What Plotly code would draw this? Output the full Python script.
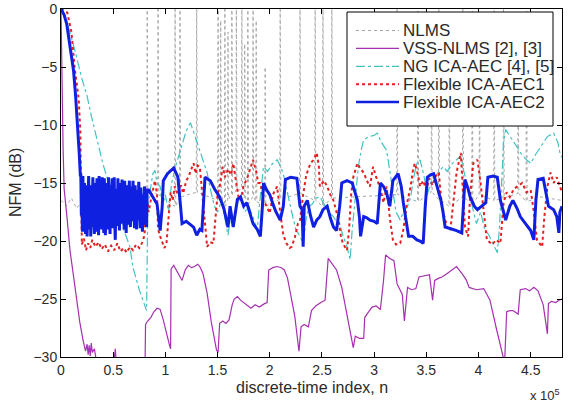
import plotly.graph_objects as go

# x in units of 1e5 samples, y in dB
nlms_base = [(0, -16.5), (0.05, -17.0), (0.1, -16.3), (0.15, -17.2), (0.2, -16.5), (0.3, -16.8),
             (0.4, -16.4), (0.5, -17.0), (0.6, -16.6), (0.7, -16.9), (0.8, -16.5)]
nlms_spikes = [0.826, 0.93, 1.093, 1.14, 1.30, 1.505, 1.53, 1.57, 1.60, 1.637, 1.68, 1.733, 1.76,
               1.79, 1.84, 1.87, 1.956, 2.10, 2.29, 2.435, 2.51, 2.595, 3.22, 3.42, 3.55, 3.62,
               3.72, 3.85, 3.94, 4.01, 4.15, 4.24, 4.38, 4.46]
nlms_spike_top = [2, 2, 2, 2, 2, 2, -1, 2, -2, 2, 1, 2, -3, 2, 2, -1, -5, 2, 2, 2, 2, 2, 2, 2,
                  -4, 2, -3, 2, 2, -6, 2, 2, -2, 2]
nlms_floor = [-15.5, -16.0, -17.0, -16.2, -15.8, -16.5, -16.0, -17.0, -16.4, -16.0, -15.7, -15.5,
              -16.3, -16.8, -16.2, -16.6, -17.0, -16.4, -15.9, -16.5, -17.0, -16.3, -16.0, -16.6,
              -15.8, -16.4, -17.0, -16.2, -16.8, -16.0, -16.5, -16.3, -15.9, -16.6]
nlms_end = [(4.6, -16.2), (4.8, -16.5)]

vss = [(0, 0), (0.005, -4.5), (0.012, -7), (0.02, -12), (0.03, -15.5), (0.045, -17.2), (0.06, -18.2),
       (0.086, -20.8), (0.12, -23), (0.15, -25.1), (0.18, -27), (0.21, -28.5), (0.235, -29.5),
       (0.25, -28.9), (0.26, -29.8), (0.27, -29), (0.28, -29.9), (0.29, -28.8), (0.30, -29.6),
       (0.32, -29.3), (0.34, -30.4), (0.37, -31), (0.45, -31), (0.5, -31), (0.52, -29.3), (0.53, -30.5),
       (0.56, -31), (0.62, -31), (0.7, -31), (0.78, -31), (0.805, -31), (0.81, -27.2), (0.83, -26.9),
       (0.86, -26.6), (0.89, -26.1), (0.92, -25.8), (0.95, -25.9), (0.98, -26.8), (1.01, -28),
       (1.04, -29), (1.05, -29.3), (1.055, -22.4), (1.08, -22.1), (1.11, -22.6), (1.14, -23),
       (1.16, -23.4), (1.19, -22.5), (1.22, -22.1), (1.25, -22.3), (1.28, -22.2), (1.31, -22.0),
       (1.33, -22.2), (1.36, -22.8), (1.40, -24.5), (1.44, -27), (1.47, -28.6), (1.49, -29.4),
       (1.505, -29.6), (1.52, -27.1), (1.55, -26.9), (1.58, -27.1), (1.61, -26.8), (1.64, -25.5),
       (1.66, -25.0), (1.69, -24.8), (1.72, -25.1), (1.76, -25.4), (1.79, -25.6), (1.82, -25.8),
       (1.86, -25.5), (1.90, -25.7), (1.95, -25.4), (1.975, -25.3), (1.99, -22.5), (2.03, -22.3),
       (2.07, -22.2), (2.11, -22.3), (2.14, -22.5), (2.17, -23.2), (2.2, -24.6), (2.24, -26.5),
       (2.28, -29.5), (2.30, -27.4), (2.33, -27.2), (2.37, -27.4), (2.40, -26), (2.44, -25.6),
       (2.49, -25.3), (2.53, -25.1), (2.56, -21.5), (2.60, -22.0), (2.64, -22.5), (2.69, -24),
       (2.74, -26.5), (2.78, -28.4), (2.80, -29.2), (2.82, -28.2), (2.86, -28.4), (2.90, -28.4),
       (2.91, -26.6), (2.94, -26.2), (2.98, -25.7), (3.02, -25.6), (3.06, -25.9), (3.09, -23.4),
       (3.11, -21.2), (3.15, -21.5), (3.19, -21.7), (3.22, -23.7), (3.27, -24.6), (3.29, -26.9),
       (3.32, -24), (3.36, -24.2), (3.40, -24.1), (3.43, -23.1), (3.48, -23.0), (3.53, -22.9),
       (3.56, -25.1), (3.58, -23.4), (3.62, -23.2), (3.65, -23.1), (3.70, -22.8), (3.74, -22.5),
       (3.79, -22.2), (3.84, -22.8), (3.88, -23.3), (3.91, -24.0), (3.98, -24.2), (4.05, -24.1),
       (4.11, -25.1), (4.17, -27.5), (4.24, -30), (4.25, -30.5), (4.27, -26.1), (4.30, -26.0),
       (4.33, -26.0), (4.38, -26.3), (4.40, -24.2), (4.45, -24.1), (4.49, -24.3), (4.53, -24.0),
       (4.57, -24.3), (4.62, -25.5), (4.66, -28), (4.67, -25.4), (4.70, -25.2), (4.74, -25.3),
       (4.77, -25.1), (4.80, -25.0)]

ng = [(0, 0), (0.06, -1.2), (0.10, -2.5), (0.14, -3.8), (0.2, -6), (0.25, -7.5), (0.29, -9.2),
      (0.35, -11.5), (0.40, -13.3), (0.44, -14.5), (0.50, -15.8), (0.55, -17), (0.60, -19),
      (0.66, -20.5), (0.69, -22.3), (0.75, -24.2), (0.82, -26), (0.825, -22), (0.83, -18),
      (0.84, -16.5), (0.86, -15.5), (0.88, -14.2), (0.90, -13.9), (0.92, -15), (0.95, -15.3),
      (0.97, -17), (1.0, -16), (1.03, -17.5), (1.06, -15), (1.10, -13.5), (1.15, -12), (1.20, -10.5),
      (1.24, -9.8), (1.27, -10.6), (1.30, -11.5), (1.34, -12.5), (1.37, -13.2), (1.40, -14.1),
      (1.43, -15.5), (1.47, -17), (1.50, -17.5), (1.54, -16.5), (1.57, -18), (1.60, -19.5),
      (1.63, -17.5), (1.66, -18.5), (1.68, -17), (1.72, -16), (1.76, -17.5), (1.80, -17),
      (1.84, -18), (1.88, -19), (1.90, -17), (1.92, -15), (1.94, -13.6), (1.98, -14), (2.02, -13.4),
      (2.07, -13), (2.10, -13.5), (2.13, -14.2), (2.17, -16), (2.21, -17.5), (2.25, -19),
      (2.29, -19.6), (2.32, -20.2), (2.35, -18), (2.38, -17), (2.41, -16.8), (2.44, -16.3),
      (2.48, -16.2), (2.52, -16.8), (2.56, -17.5), (2.60, -17.8), (2.64, -18.3), (2.67, -18.5),
      (2.70, -19.5), (2.74, -20.5), (2.77, -21.6), (2.79, -19), (2.82, -16), (2.85, -13.5),
      (2.88, -12), (2.90, -11.3), (2.95, -11), (3.0, -10.9), (3.03, -10.7), (3.07, -11.5),
      (3.12, -12.2), (3.15, -14), (3.18, -16), (3.21, -17.5), (3.25, -18.2), (3.28, -17.5),
      (3.32, -17), (3.35, -16.2), (3.38, -14.5), (3.41, -13.3), (3.44, -13), (3.48, -14.5),
      (3.51, -16), (3.54, -15), (3.58, -14.5), (3.62, -14), (3.66, -13.6), (3.70, -14), (3.75, -13.3),
      (3.79, -13), (3.83, -12.7), (3.86, -14), (3.90, -15.5), (3.94, -17), (3.98, -18.5),
      (4.02, -17.5), (4.06, -19), (4.10, -19.5), (4.14, -20.2), (4.18, -21), (4.20, -19),
      (4.22, -15), (4.24, -11.5), (4.26, -10.4), (4.30, -11), (4.34, -11.5), (4.37, -11.9),
      (4.41, -12.5), (4.46, -13), (4.50, -13.3), (4.55, -12.5), (4.60, -11.8), (4.66, -11),
      (4.72, -10.7), (4.76, -11.5), (4.78, -12.4), (4.80, -12.8)]

aec1 = [(0, 0), (0.06, -0.3), (0.10, -2), (0.13, -5), (0.17, -7.8), (0.185, -10.5), (0.19, -14),
        (0.195, -17.5), (0.2, -20.3), (0.22, -19.8), (0.24, -20.8), (0.26, -20.2), (0.28, -20.6),
        (0.30, -19.9), (0.33, -20.5), (0.36, -20.1), (0.39, -20.7), (0.42, -20.3), (0.45, -20.9),
        (0.48, -20.4), (0.51, -20.8), (0.54, -20.2), (0.57, -20.9), (0.60, -20.6), (0.63, -21),
        (0.66, -20.5), (0.69, -20.8), (0.72, -20.3), (0.75, -20.6), (0.78, -20.1), (0.8, -19.5),
        (0.82, -16), (0.84, -17.5), (0.86, -16.5), (0.88, -15.5), (0.9, -14.8), (0.92, -16),
        (0.93, -19), (0.95, -19.6), (0.97, -20.2), (0.99, -20.6), (1.01, -20.3), (1.03, -18),
        (1.05, -15.8), (1.07, -16.5), (1.09, -15.3), (1.12, -16), (1.15, -15.2), (1.17, -15.9),
        (1.2, -14.8), (1.22, -14.5), (1.25, -13.8), (1.27, -13.3), (1.29, -14.2), (1.31, -13.5),
        (1.33, -13.6), (1.35, -15.5), (1.37, -18), (1.40, -20.5), (1.43, -20.1), (1.46, -20.2),
        (1.48, -18), (1.50, -16), (1.52, -15.3), (1.55, -13.6), (1.57, -14.5), (1.60, -13.8),
        (1.63, -14.3), (1.65, -13.3), (1.68, -15), (1.70, -16.2), (1.72, -16.5), (1.75, -15.2),
        (1.78, -14.7), (1.81, -13.8), (1.84, -13), (1.87, -14), (1.89, -15), (1.91, -15),
        (1.94, -16.5), (1.97, -17), (2.0, -17.6), (2.03, -16), (2.07, -15.3), (2.10, -17.5),
        (2.13, -19.5), (2.16, -20.2), (2.19, -20.6), (2.21, -20.5), (2.24, -19.7), (2.27, -18.5),
        (2.29, -18.2), (2.32, -16), (2.35, -14.3), (2.39, -13.3), (2.42, -13), (2.45, -12.4),
        (2.47, -13.5), (2.48, -15.3), (2.52, -14.8), (2.55, -15.3), (2.58, -16), (2.61, -16.5),
        (2.64, -17.5), (2.66, -18.2), (2.68, -19.5), (2.70, -20.2), (2.74, -20.8), (2.76, -19),
        (2.78, -16), (2.80, -14.5), (2.84, -13.3), (2.87, -13.8), (2.90, -14.1), (2.93, -14.8),
        (2.96, -15.3), (2.99, -13.6), (3.02, -14.5), (3.06, -15.5), (3.09, -16.7), (3.12, -15.3),
        (3.15, -18), (3.18, -19.9), (3.21, -20.3), (3.25, -20.2), (3.28, -19), (3.31, -17),
        (3.35, -15.3), (3.37, -14), (3.39, -13.3), (3.42, -14.3), (3.44, -15.3), (3.47, -14.8),
        (3.50, -15.6), (3.53, -14.6), (3.56, -15.2), (3.59, -14.4), (3.62, -14.1), (3.64, -16.2),
        (3.67, -17.8), (3.70, -18.8), (3.73, -19.1), (3.76, -16.5), (3.79, -14.1), (3.83, -12.4),
        (3.85, -15.5), (3.87, -18.8), (3.90, -19.6), (3.92, -16), (3.95, -13.3), (3.99, -13),
        (4.02, -15), (4.05, -17.5), (4.08, -19.9), (4.13, -20.3), (4.17, -19.9), (4.21, -20.2),
        (4.24, -16.7), (4.27, -15.8), (4.30, -16.2), (4.34, -15.5), (4.37, -15.3), (4.42, -15),
        (4.46, -15.8), (4.50, -15.6), (4.53, -17.5), (4.56, -19.9), (4.61, -20.5), (4.63, -18),
        (4.66, -15.3), (4.69, -14.1), (4.72, -15), (4.75, -14.5), (4.78, -15.3), (4.80, -15.8)]

aec2 = [(0, 0), (0.03, -0.5), (0.055, -1.3), (0.08, -2.8), (0.10, -4), (0.12, -5.3), (0.14, -7.5),
        (0.16, -10), (0.175, -12.5), (0.185, -14.3), (0.19, -14.3), (0.195, -17.8), (0.20, -16.5),
        (0.205, -19.2), (0.21, -14.4), (0.215, -18.8), (0.22, -16.2), (0.225, -15), (0.23, -17.9),
        (0.235, -19.4), (0.24, -16.4), (0.245, -15.2), (0.25, -19.6), (0.255, -18.2), (0.26, -15.8),
        (0.265, -14.4), (0.27, -19.0), (0.275, -17.5), (0.28, -15.2), (0.285, -19.6), (0.29, -17.0),
        (0.295, -15.5), (0.30, -18.8), (0.305, -14.5), (0.31, -16.4), (0.315, -18.5), (0.32, -19.4),
        (0.325, -15), (0.33, -17.3), (0.335, -19.2), (0.34, -16.0), (0.345, -14.6), (0.35, -18.9),
        (0.355, -17), (0.36, -19.5), (0.365, -14.4), (0.37, -16.8), (0.375, -18.7), (0.38, -16.9),
        (0.385, -15.3), (0.39, -19.0), (0.395, -14.5), (0.40, -16.0), (0.405, -17.8), (0.41, -19.3),
        (0.415, -14.6), (0.42, -17.4), (0.425, -19.5), (0.43, -17.8), (0.435, -15), (0.44, -18.6),
        (0.445, -16.8), (0.45, -19.0), (0.455, -14.5), (0.46, -16.6), (0.465, -18), (0.47, -19.4),
        (0.475, -15.2), (0.48, -17.6), (0.49, -14.6), (0.495, -18.9), (0.50, -17.5), (0.505, -15.9),
        (0.51, -14.5), (0.515, -18.4), (0.52, -19.9), (0.525, -17.1), (0.53, -15.5), (0.54, -18.7),
        (0.545, -14.6), (0.55, -16.2), (0.555, -17.8), (0.56, -19.1), (0.565, -15), (0.57, -16.9),
        (0.575, -18.5), (0.58, -16.1), (0.585, -14.7), (0.59, -18.4), (0.60, -16.5), (0.605, -19.0),
        (0.61, -14.8), (0.615, -16.7), (0.62, -18.2), (0.625, -19.3), (0.63, -15.2), (0.64, -18.6),
        (0.645, -17), (0.65, -15.9), (0.655, -14.8), (0.66, -17.6), (0.665, -18.8), (0.67, -16.6),
        (0.675, -15.3), (0.68, -18.3), (0.69, -14.8), (0.695, -16.9), (0.70, -17.5), (0.705, -18.9),
        (0.71, -15.2), (0.72, -17.1), (0.725, -19), (0.73, -16.8), (0.735, -15.6), (0.74, -18.2),
        (0.745, -14.9), (0.75, -16.4), (0.755, -17.2), (0.76, -18.9), (0.765, -15.4), (0.77, -17.3),
        (0.78, -19.2), (0.785, -17.7), (0.79, -16), (0.795, -18.6), (0.80, -15.3), (0.81, -16.4),
        (0.815, -17.5), (0.82, -18.8), (0.825, -15.6), (0.84, -15.6), (0.88, -16.2),
        (0.92, -16.8), (0.95, -19.1), (0.97, -17), (0.98, -14.8), (1.02, -14.2), (1.08, -13.7),
        (1.12, -14.5), (1.14, -16.5), (1.16, -18.5), (1.20, -18.3), (1.24, -18.6), (1.27, -18.8),
        (1.30, -19.5), (1.33, -19.0), (1.35, -19.1), (1.37, -16), (1.38, -14.5), (1.43, -14.8),
        (1.47, -15.5), (1.52, -16.2), (1.56, -17.2), (1.60, -18.8), (1.62, -17), (1.65, -18.8),
        (1.69, -16.4), (1.72, -16.2), (1.75, -17), (1.78, -16.7), (1.81, -17.5), (1.84, -18.5),
        (1.88, -19.0), (1.91, -19.6), (1.93, -17), (1.94, -15), (1.97, -15.6), (2.0, -16),
        (2.03, -16.8), (2.06, -17.5), (2.10, -18.2), (2.13, -17), (2.15, -14.7), (2.20, -14.5),
        (2.26, -14.6), (2.29, -17), (2.31, -17.3), (2.32, -20.5), (2.33, -17), (2.36, -16.5),
        (2.39, -17.8), (2.42, -18.8), (2.45, -18.2), (2.48, -17.9), (2.51, -17.3), (2.55, -17),
        (2.58, -18), (2.61, -18.8), (2.64, -19.1), (2.67, -17), (2.69, -15), (2.74, -14.8),
        (2.79, -15), (2.82, -15.8), (2.84, -16.5), (2.86, -18), (2.87, -19.6), (2.90, -17.9),
        (2.93, -18), (2.96, -18.2), (3.0, -18.3), (3.03, -18.5), (3.05, -16.5), (3.06, -15),
        (3.09, -15.3), (3.12, -15.9), (3.15, -17), (3.17, -15.5), (3.18, -14.8), (3.23, -14.2),
        (3.26, -15.3), (3.28, -16.7), (3.30, -18), (3.33, -19.6), (3.37, -19.6), (3.41, -19.9),
        (3.44, -20), (3.47, -20.2), (3.49, -17), (3.51, -14.5), (3.54, -14.3), (3.57, -14.2),
        (3.60, -15.2), (3.64, -16.5), (3.66, -17.5), (3.68, -18.8), (3.72, -18.9), (3.76, -19),
        (3.79, -19.1), (3.84, -19.3), (3.86, -16.5), (3.87, -14.7), (3.90, -15.5), (3.92, -16.2),
        (3.96, -17), (3.99, -17.3), (4.03, -17), (4.07, -16.7), (4.09, -14.5), (4.14, -14.4),
        (4.18, -14.5), (4.21, -16.5), (4.24, -17.5), (4.26, -18.2), (4.30, -17), (4.33, -16.5),
        (4.37, -17.2), (4.40, -17.9), (4.45, -18.5), (4.50, -19.1), (4.53, -19.9), (4.55, -16.5),
        (4.57, -14.7), (4.62, -14.6), (4.65, -16), (4.67, -17), (4.72, -17.3), (4.75, -17.9),
        (4.77, -19.3), (4.78, -17.5), (4.80, -17)]

x_ticks = [0, 0.5, 1, 1.5, 2, 2.5, 3, 3.5, 4, 4.5]
x_tick_text = ["0", "0.5", "1", "1.5", "2", "2.5", "3", "3.5", "4", "4.5"]
y_ticks = [-30, -25, -20, -15, -10, -5, 0]

# assemble NLMS trace: flat start, then divergence spikes
nx = [p[0] for p in nlms_base]
ny = [p[1] for p in nlms_base]
for s, top, fl in zip(nlms_spikes, nlms_spike_top, nlms_floor):
    nx += [s - 0.004, s, s + 0.006]
    ny += [fl, top, fl]
nx += [p[0] for p in nlms_end]
ny += [p[1] for p in nlms_end]


def split(pts):
    return [p[0] for p in pts], [p[1] for p in pts]


FONT = "Liberation Sans, Arial, sans-serif"
TXT = "#2a2a2a"
series_style = [
    ("NLMS", dict(color="#a6a6a6", width=1, dash="dot")),
    ("VSS-NLMS [2], [3]", dict(color="#a530b0", width=1.2, dash="solid")),
    ("NG ICA-AEC [4], [5]", dict(color="#44c2c2", width=1.2, dash="dashdot")),
    ("Flexible ICA-AEC1", dict(color="#e32020", width=2, dash="dot")),
    ("Flexible ICA-AEC2", dict(color="#1020e0", width=3, dash="solid")),
]
vx, vy = split(vss)
gx, gy = split(ng)
ax_, ay_ = split(aec1)
bx, by = split(aec2)
data_xy = [(nx, ny), (vx, vy), (gx, gy), (ax_, ay_), (bx, by)]

fig = go.Figure()
for (name, ln), (xs, ys) in zip(series_style, data_xy):
    fig.add_trace(go.Scatter(x=xs, y=ys, mode="lines", name=name, line=ln, showlegend=False))

axis_common = dict(showgrid=False, zeroline=False, showline=True, linecolor="black", linewidth=1,
                   mirror="ticks", ticks="inside", ticklen=5, tickcolor="black",
                   tickfont=dict(family=FONT, size=14, color=TXT))
fig.update_xaxes(range=[0, 4.8], tickvals=x_ticks, ticktext=x_tick_text, **axis_common)
fig.update_yaxes(range=[-30, 0], tickvals=y_ticks, **axis_common)

# manual legend (MATLAB style box) in paper coordinates
W_PLOT, H_PLOT, L, T = 501.0, 348.0, 61.0, 9.0


def px(xp):
    return (xp - L) / W_PLOT


def py(yp):
    return 1 - (yp - T) / H_PLOT


shapes = [dict(type="rect", xref="paper", yref="paper", x0=px(347), x1=px(553), y0=py(126), y1=py(12),
               line=dict(color="black", width=1), fillcolor="white", layer="above")]
annotations = []
for i, (name, ln) in enumerate(series_style):
    yc = 30.5 + 17.9 * i
    lw = ln["width"] if ln["width"] < 3 else 2.5
    shapes.append(dict(type="line", xref="paper", yref="paper", x0=px(356), x1=px(399), y0=py(yc), y1=py(yc),
                       line=dict(color=ln["color"], width=lw, dash=ln["dash"]), layer="above"))
    annotations.append(dict(text=name, xref="paper", yref="paper", x=px(401), y=py(yc), xanchor="left",
                            yanchor="middle", showarrow=False, font=dict(family=FONT, size=17, color=TXT)))

annotations += [
    dict(text="discrete-time index, n", xref="paper", yref="paper", x=0.5, y=py(387),
         xanchor="center", yanchor="middle", showarrow=False, font=dict(family=FONT, size=16, color=TXT)),
    dict(text="x 10<sup>5</sup>", xref="paper", yref="paper", x=1.0, y=py(395),
         xanchor="right", yanchor="middle", showarrow=False, font=dict(family=FONT, size=13, color=TXT)),
    dict(text="NFM (dB)", xref="paper", yref="paper", x=px(15), y=0.5, textangle=-90,
         xanchor="center", yanchor="middle", showarrow=False, font=dict(family=FONT, size=16, color=TXT)),
]

fig.update_layout(
    width=571, height=405,
    margin=dict(l=61, r=9, t=9, b=48, autoexpand=False),
    plot_bgcolor="white", paper_bgcolor="white",
    font=dict(family=FONT, color=TXT),
    showlegend=False,
    shapes=shapes,
    annotations=annotations,
)
fig.write_html("out.html", config={"displayModeBar": False},
               post_script="document.body.style.margin='0px';document.body.style.overflow='hidden';")
